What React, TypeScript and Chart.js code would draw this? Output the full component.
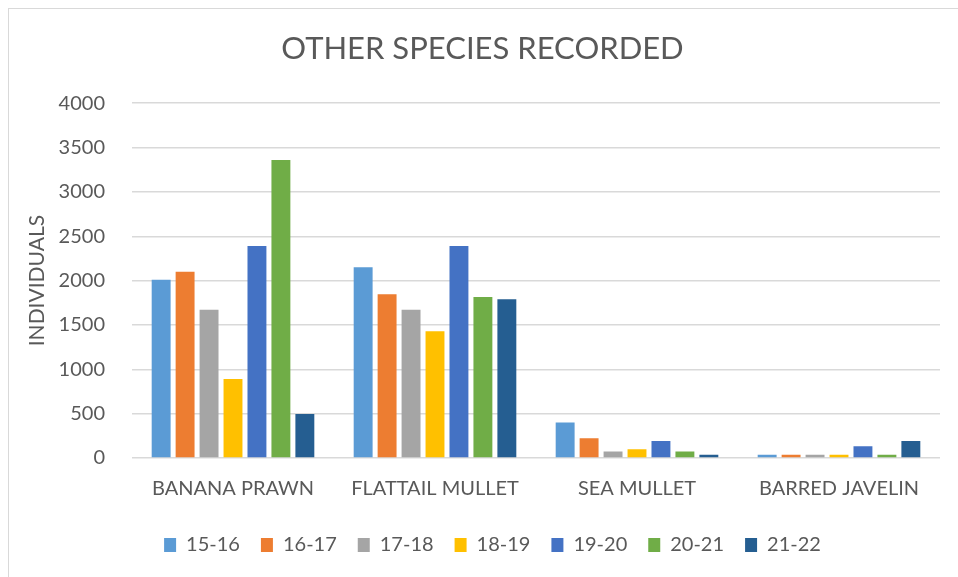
import React, { useEffect, useRef } from "react";
import { Chart, registerables } from "chart.js";

Chart.register(...registerables);

const categories = ["BANANA PRAWN", "FLATTAIL MULLET", "SEA MULLET", "BARRED JAVELIN"];
const seasons = ["15-16", "16-17", "17-18", "18-19", "19-20", "20-21", "21-22"];
const s1516 = [2010, 2150, 400, 38];
const s1617 = [2100, 1845, 222, 38];
const s1718 = [1670, 1670, 72, 38];
const s1819 = [890, 1430, 98, 38];
const s1920 = [2390, 2390, 192, 132];
const s2021 = [3360, 1815, 72, 38];
const s2122 = [495, 1790, 38, 192];
const seriesValues = [s1516, s1617, s1718, s1819, s1920, s2021, s2122];
const colors = ["#5B9BD5", "#ED7D31", "#A5A5A5", "#FFC000", "#4472C4", "#70AD47", "#255E91"];
const yTicks = [0, 500, 1000, 1500, 2000, 2500, 3000, 3500, 4000];

const FONT = "Lato, 'Open Sans', sans-serif";
const TEXT = "#595959";

const legendShift = {
  id: "legendShift",
  afterLayout(chart: any) {
    if (chart.legend) {
      chart.legend.left += 10;
      chart.legend.right += 10;
    }
  },
};

export default function App() {
  const ref = useRef<HTMLCanvasElement | null>(null);
  useEffect(() => {
    if (!ref.current) return;
    const chart = new Chart(ref.current, {
      type: "bar",
      data: {
        labels: categories,
        datasets: seasons.map((s, i) => ({
          label: s,
          data: seriesValues[i],
          backgroundColor: colors[i],
          borderWidth: 0,
          categoryPercentage: 0.83,
          barPercentage: 0.79,
        })),
      },
      plugins: [legendShift],
      options: {
        animation: false,
        responsive: false,
        maintainAspectRatio: false,
        layout: { padding: { left: 16, right: 18, top: 0, bottom: 12 } },
        plugins: {
          tooltip: { enabled: false },
          title: {
            display: true,
            text: "OTHER SPECIES RECORDED",
            color: TEXT,
            font: { family: FONT, size: 31, weight: "normal" },
            padding: { top: 21, bottom: 36 },
          },
          legend: {
            position: "bottom",
            labels: {
              color: TEXT,
              font: { family: FONT, size: 20 },
              boxWidth: 12,
              boxHeight: 14,
              padding: 21,
            },
          },
        },
        scales: {
          x: {
            grid: { display: false, drawTicks: false },
            border: { display: false },
            ticks: { color: TEXT, font: { family: FONT, size: 20 }, padding: 19, maxRotation: 0 },
            afterFit: (s: any) => {
              s.height = 56;
            },
          },
          y: {
            min: 0,
            max: 4000,
            afterBuildTicks: (s: any) => {
              s.ticks = yTicks.map((v) => ({ value: v }));
            },
            grid: { color: "#d9d9d9", lineWidth: 1.5, drawTicks: false },
            border: { display: false },
            ticks: {
              color: TEXT,
              font: { family: FONT, size: 20 },
              padding: 27,
              callback: (v: any) => String(v),
            },
            title: {
              display: true,
              text: "INDIVIDUALS",
              color: TEXT,
              font: { family: FONT, size: 21 },
              padding: { top: 0, bottom: 0 },
            },
            afterFit: (s: any) => {
              s.width = 107;
            },
          },
        },
      },
    });
    return () => chart.destroy();
  }, []);
  return (
    <div
      style={{
        position: "fixed",
        left: 8,
        top: 8,
        width: 950,
        height: 569,
        borderTop: "1px solid #d9d9d9",
        borderLeft: "1px solid #d9d9d9",
        boxSizing: "border-box",
        background: "#fff",
        overflow: "hidden",
      }}
    >
      <canvas ref={ref} width={949} height={568} style={{ display: "block" }} />
    </div>
  );
}
